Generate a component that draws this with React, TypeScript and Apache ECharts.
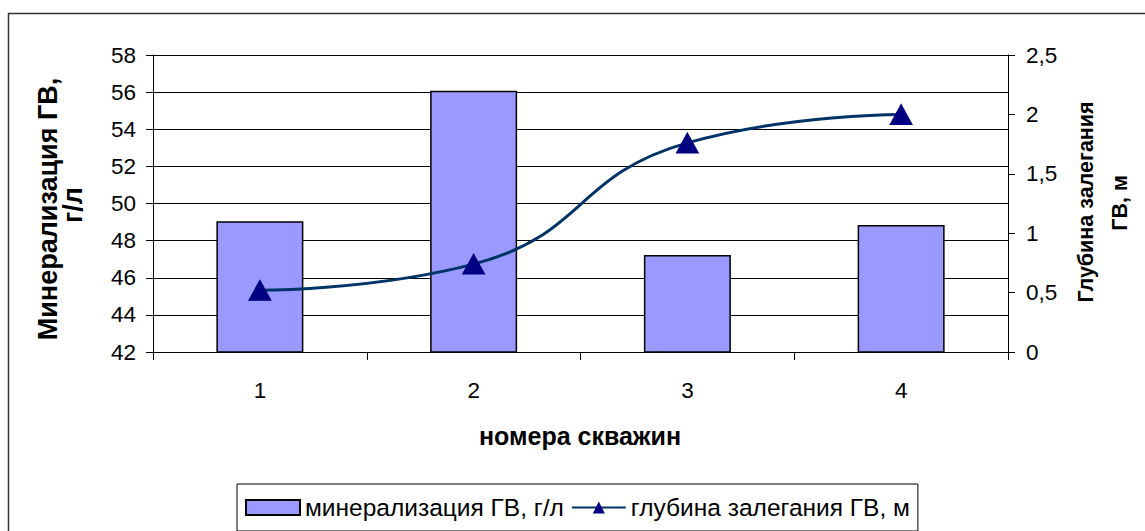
import React, { useEffect, useRef } from "react";
import * as echarts from "echarts";

const categories = ["1", "2", "3", "4"];
const mineralization = [49.05, 56.08, 47.22, 48.84];
const depth = [0.52, 0.74, 1.76, 2.0];
const leftTitle = ["Минерализация ГВ,", "г/л"];
const rightTitle = ["Глубина залегания", "ГВ, м"];
const xTitle = "номера скважин";
const FONT = "Liberation Sans, Arial, sans-serif";

export default function App() {
  const ref = useRef<HTMLDivElement>(null);
  useEffect(() => {
    document.body.style.margin = "0";
    const chart = echarts.init(ref.current!, null, { renderer: "svg" });
    const titleStyle = (text: string, size: number) => ({
      text,
      fill: "#000",
      font: `bold ${size}px ${FONT}`,
      textAlign: "center",
      textVerticalAlign: "middle",
    });
    chart.setOption({
      animation: false,
      backgroundColor: "#ffffff",
      textStyle: { fontFamily: FONT },
      grid: { left: 153, right: 137, top: 55, bottom: 179, containLabel: false, outerBoundsMode: "none" },
      graphic: [
        {
          type: "rect",
          shape: { x: 8.5, y: 13.5, width: 1150, height: 600 },
          style: { fill: "none", stroke: "#333", lineWidth: 1.5 },
          silent: true,
        },
        { type: "text", x: 48, y: 209, rotation: Math.PI / 2, style: titleStyle(leftTitle[0], 27) },
        { type: "text", x: 73, y: 205, rotation: Math.PI / 2, style: titleStyle(leftTitle[1], 27) },
        { type: "text", x: 1086, y: 202, rotation: Math.PI / 2, style: titleStyle(rightTitle[0], 21.5) },
        { type: "text", x: 1120, y: 203, rotation: Math.PI / 2, style: titleStyle(rightTitle[1], 21.5) },
        { type: "text", x: 580, y: 436, style: titleStyle(xTitle, 25) },
      ],
      legend: {
        left: 237,
        top: 484,
        borderColor: "#000",
        borderWidth: 1,
        padding: [11, 8, 11, 8],
        itemGap: 7,
        itemWidth: 54,
        itemHeight: 15,
        textStyle: { fontFamily: FONT, fontSize: 24.5, color: "#000" },
        data: [
          { name: "минерализация ГВ, г/л", icon: "rect" },
          { name: "глубина залегания ГВ, м" },
        ],
      },
      xAxis: {
        type: "category",
        data: categories,
        axisLine: { lineStyle: { color: "#000", width: 1 } },
        axisTick: { show: true, length: 8, lineStyle: { color: "#000" } },
        axisLabel: { color: "#000", fontSize: 22.5, fontFamily: FONT, margin: 27 },
      },
      yAxis: [
        {
          type: "value",
          min: 42,
          max: 58,
          interval: 2,
          axisLine: { show: true, lineStyle: { color: "#000" } },
          axisTick: { show: true, length: 7, lineStyle: { color: "#000" } },
          axisLabel: { color: "#000", fontSize: 22.5, fontFamily: FONT, margin: 17 },
          splitLine: { show: true, lineStyle: { color: "#000", width: 1 } },
        },
        {
          type: "value",
          min: 0,
          max: 2.5,
          interval: 0.5,
          position: "right",
          axisLine: { show: true, lineStyle: { color: "#000" } },
          axisTick: { show: true, length: 7, lineStyle: { color: "#000" } },
          axisLabel: {
            color: "#000",
            fontSize: 22.5,
            fontFamily: FONT,
            margin: 18,
            formatter: (v: number) => String(v).replace(".", ","),
          },
          splitLine: { show: false },
        },
      ],
      series: [
        {
          name: "минерализация ГВ, г/л",
          type: "bar",
          data: mineralization,
          barWidth: 87,
          itemStyle: { color: "#9999FF", borderColor: "#000", borderWidth: 1.5 },
        },
        {
          name: "глубина залегания ГВ, м",
          type: "line",
          yAxisIndex: 1,
          data: depth,
          smooth: 0.5,
          symbol: "triangle",
          symbolSize: [22, 20],
          lineStyle: { color: "#003366", width: 3 },
          itemStyle: { color: "#000080", borderColor: "#000080" },
        },
      ],
    });
    return () => chart.dispose();
  }, []);
  return <div ref={ref} style={{ width: 1145, height: 531 }} />;
}
